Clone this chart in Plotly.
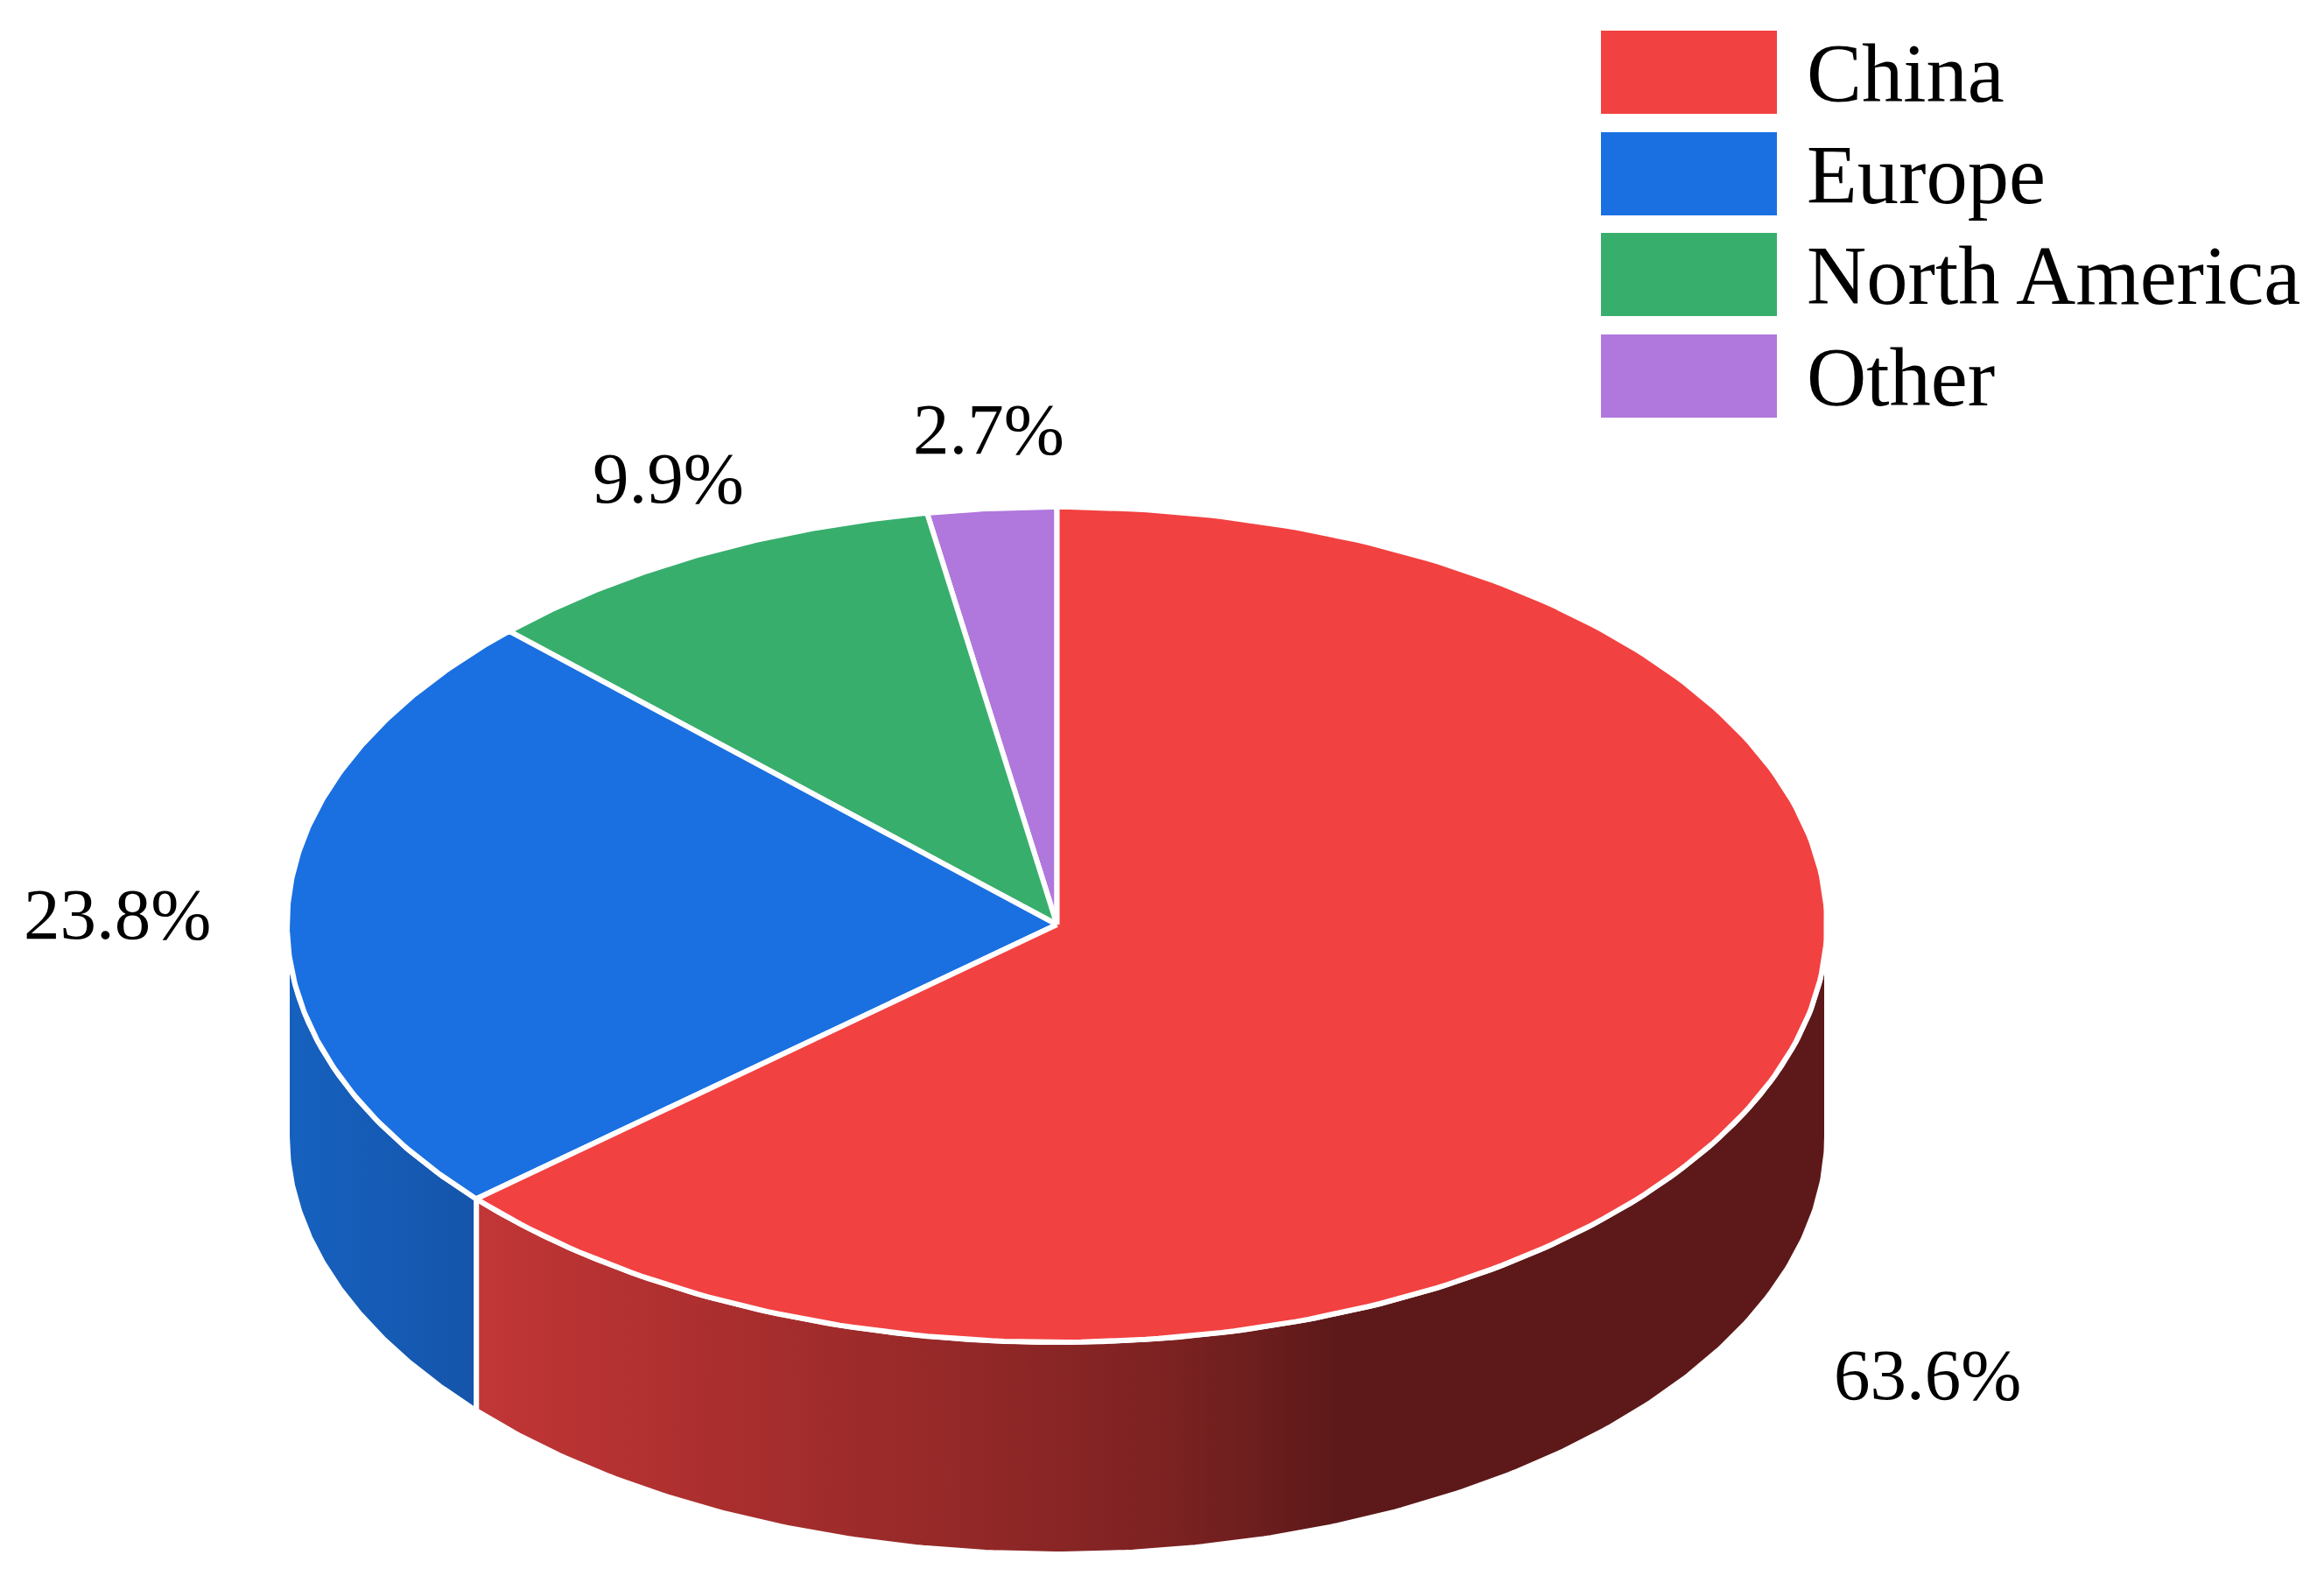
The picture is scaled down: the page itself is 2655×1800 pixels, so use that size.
import numpy as np
import plotly.graph_objects as go

# Data
categories = ["China", "Europe", "North America", "Other"]
shares = [63.6, 23.8, 9.9, 2.7]
top_colors = ["#F24141", "#1A70E0", "#38AE6D", "#B077DD"]

# Geometry of the projected disc, in pixels of the canvas
W, H = 2655, 1800
CX, CY, RX, RY, DEPTH = 1207.5, 1056, 879.5, 477, 242
LINE = 6
FONT = "Liberation Serif"

label_centers = [(2202, 1598), (134, 1072), (763, 574), (1129, 518)]  # centre x, baseline y
LABEL_SIZE = 83
LEGEND_SIZE = 94.5


def rim(a, b, dy=0.0, n=240):
    t = np.radians(np.linspace(a, b, n))
    return CX + RX * np.sin(t), CY - RY * np.cos(t) + dy


fig = go.Figure()

ends = np.cumsum(shares) / sum(shares) * 360
starts = np.concatenate([[0], ends[:-1]])

# Side walls: only the front half of the disc (90 to 270 degrees) is visible
side_styles = {
    0: dict(colorscale=[[0, "#C23636"], [0.186, "#AA2E2E"], [0.368, "#932828"], [0.505, "#7E2222"],
                        [0.573, "#6E1E1E"], [0.637, "#5D1919"], [1, "#5D1919"]], x0=544, x1=2084),
    1: dict(colorscale=[[0, "#1661BF"], [1, "#1555AB"]], x0=331, x1=544),
}
for i in side_styles:
    a, b = max(starts[i], 90), min(ends[i], 270)
    xt, yt = rim(a, b)
    xb, yb = rim(b, a, DEPTH)
    s = side_styles[i]
    fig.add_trace(go.Scatter(
        x=np.r_[xt, xb, xt[0]], y=np.r_[yt, yb, yt[0]], mode="lines",
        fill="toself",
        fillgradient=dict(type="horizontal", colorscale=s["colorscale"], start=s["x0"], stop=s["x1"]),
        line=dict(color="#FFFFFF", width=LINE),
        hoverinfo="skip", showlegend=False,
    ))

# Top faces, with the largest slice drawn last
for i in [3, 2, 1, 0]:
    xa, ya = rim(starts[i], ends[i])
    fig.add_trace(go.Scatter(
        x=np.r_[CX, xa, CX], y=np.r_[CY, ya, CY], mode="lines",
        fill="toself", fillcolor=top_colors[i],
        line=dict(color="#FFFFFF", width=LINE),
        name=categories[i], hoverinfo="skip", showlegend=False,
    ))

annotations = []
for v, (x, base) in zip(shares, label_centers):
    annotations.append(dict(
        x=x, y=base - 0.337 * LABEL_SIZE, xref="x", yref="y", text=f"{v}%", showarrow=False,
        xanchor="center", yanchor="middle", borderpad=0,
        font=dict(family=FONT, size=LABEL_SIZE, color="#000000"),
    ))

# Legend: large swatches that Plotly's own legend cannot size
shapes = []
swatch_tops = [35, 151, 266, 382]
for name, color, top in zip(categories, top_colors, swatch_tops):
    shapes.append(dict(type="rect", xref="x", yref="y", x0=1829, x1=2030, y0=top, y1=top + 95,
                       fillcolor=color, line=dict(width=0), layer="above"))
    annotations.append(dict(
        x=2063, y=top + 81 - 0.337 * LEGEND_SIZE, xref="x", yref="y", text=name, showarrow=False,
        xanchor="left", yanchor="middle", borderpad=0,
        font=dict(family=FONT, size=LEGEND_SIZE, color="#000000"),
    ))

fig.update_layout(
    width=W, height=H, margin=dict(l=0, r=0, t=0, b=0),
    paper_bgcolor="#FFFFFF", plot_bgcolor="#FFFFFF",
    xaxis=dict(range=[0, W], visible=False, fixedrange=True),
    yaxis=dict(range=[H, 0], visible=False, fixedrange=True),
    showlegend=False, shapes=shapes, annotations=annotations,
)

fig.write_html("out.html", config={"displayModeBar": False},
               post_script="document.body.style.margin='0';document.documentElement.style.overflow='hidden';")
